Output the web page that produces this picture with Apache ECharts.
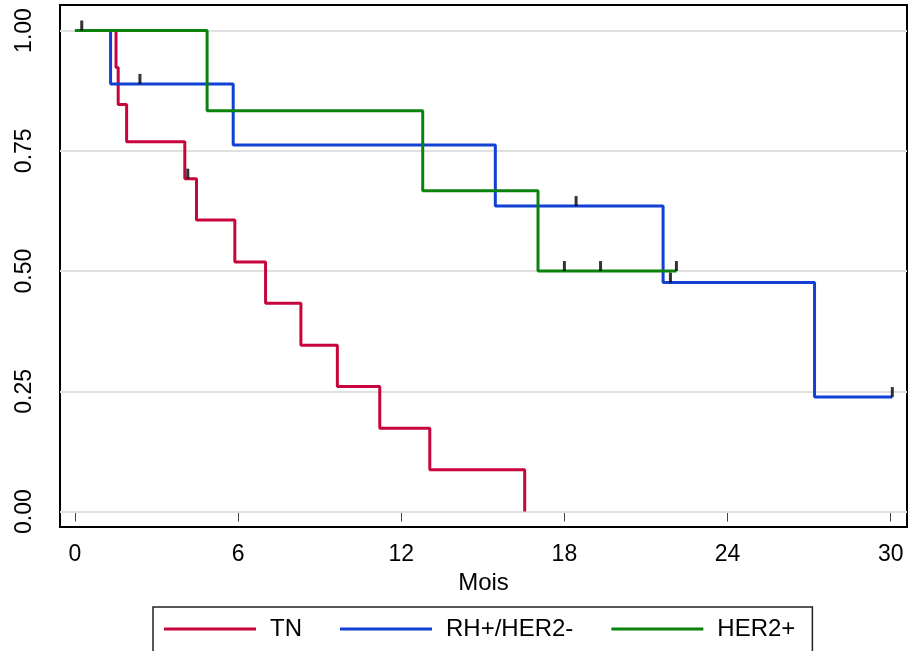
<!DOCTYPE html>
<html>
<head>
<meta charset="utf-8">
<script src="https://cdn.jsdelivr.net/npm/echarts@6/dist/echarts.min.js"></script>
<style>
  html, body { margin: 0; padding: 0; background: #fff; }
  #chart { width: 909px; height: 651px; }
</style>
</head>
<body>
<div id="chart"></div>
<script>
// survival curves, [months, survival]
var tnCurve = [[0, 1], [1.51, 0.923], [1.59, 0.846], [1.9, 0.769], [4.04, 0.692], [4.47, 0.606],
    [5.88, 0.519], [7.01, 0.433], [8.31, 0.346], [9.65, 0.26], [11.21, 0.173], [13.05, 0.087], [16.54, 0]];
var rhCurve = [[0, 1], [1.31, 0.889], [5.82, 0.762], [15.46, 0.635], [21.63, 0.476], [27.2, 0.238], [30.06, 0.238]];
var her2Curve = [[0, 1], [4.86, 0.833], [12.79, 0.667], [17.03, 0.5], [22.12, 0.5]];

// censored observations
var tnCensor = [[4.15, 0.692]];
var rhCensor = [[2.39, 0.889], [18.43, 0.635], [21.9, 0.476], [30.06, 0.238]];
var her2Censor = [[0.25, 1], [18.0, 0.5], [19.33, 0.5], [22.12, 0.5]];

var seriesNames = ['TN', 'RH+/HER2-', 'HER2+'];
var xTicks = [0, 6, 12, 18, 24, 30];
var yTicks = [0, 0.25, 0.5, 0.75, 1];

var chart = echarts.init(document.getElementById('chart'));

function curve(name, data, color) {
    return {
        name: name,
        type: 'line',
        step: 'end',
        data: data,
        showSymbol: false,
        symbol: 'none',
        lineStyle: { color: color, width: 3 },
        itemStyle: { color: color },
        animation: false,
        z: 3
    };
}

function censor(data) {
    return {
        type: 'scatter',
        data: data,
        symbol: 'rect',
        symbolSize: [3, 10],
        symbolOffset: [0, -5],
        itemStyle: { color: '#000' },
        silent: true,
        animation: false,
        z: 5
    };
}

// horizontal grid lines at the y ticks
var gridSeries = {
    type: 'line',
    data: [],
    silent: true,
    z: 1,
    markLine: {
        z: 1,
        silent: true,
        animation: false,
        symbol: 'none',
        label: { show: false },
        lineStyle: { color: '#e0e0e0', width: 2, type: 'solid' },
        data: yTicks.map(function (v) { return { yAxis: v }; })
    }
};

var option = {
    backgroundColor: '#fff',
    animation: false,
    textStyle: { fontFamily: 'Liberation Sans, Arial, sans-serif' },
    grid: {
        left: 60, top: 5, right: 2, bottom: 124,
        show: true, borderColor: '#000', borderWidth: 2, backgroundColor: '#fff'
    },
    xAxis: {
        type: 'value',
        min: -0.55,
        max: 30.6,
        name: 'Mois',
        nameLocation: 'middle',
        nameGap: 38,
        nameTextStyle: { fontSize: 24, color: '#000' },
        axisLine: { show: false },
        axisTick: { show: true, length: 10, customValues: xTicks, lineStyle: { color: '#444', width: 1 } },
        axisLabel: { customValues: xTicks, fontSize: 23, color: '#000', margin: 16 },
        splitLine: { show: false }
    },
    yAxis: {
        type: 'value',
        min: -0.032,
        max: 1.053,
        axisLine: { show: false },
        axisTick: { show: true, length: 10, customValues: yTicks, lineStyle: { color: '#444', width: 1 } },
        axisLabel: {
            customValues: yTicks, fontSize: 23, color: '#000', rotate: 90, margin: 24,
            formatter: function (v) { return v.toFixed(2); }
        },
        splitLine: { show: false }
    },
    legend: {
        data: seriesNames,
        left: 153,
        top: 607,
        orient: 'horizontal',
        icon: 'rect',
        itemWidth: 92,
        itemHeight: 3,
        itemGap: 38,
        padding: [7, 17, 25, 11],
        borderColor: '#222',
        borderWidth: 1.5,
        textStyle: { fontSize: 24, color: '#000', padding: [0, 0, 0, 9], lineHeight: 30 }
    },
    series: [
        gridSeries,
        curve(seriesNames[0], tnCurve, '#c8053b'),
        curve(seriesNames[1], rhCurve, '#1040d4'),
        curve(seriesNames[2], her2Curve, '#0b820b'),
        censor(tnCensor),
        censor(rhCensor),
        censor(her2Censor)
    ]
};

option && chart.setOption(option);
</script>
</body>
</html>
